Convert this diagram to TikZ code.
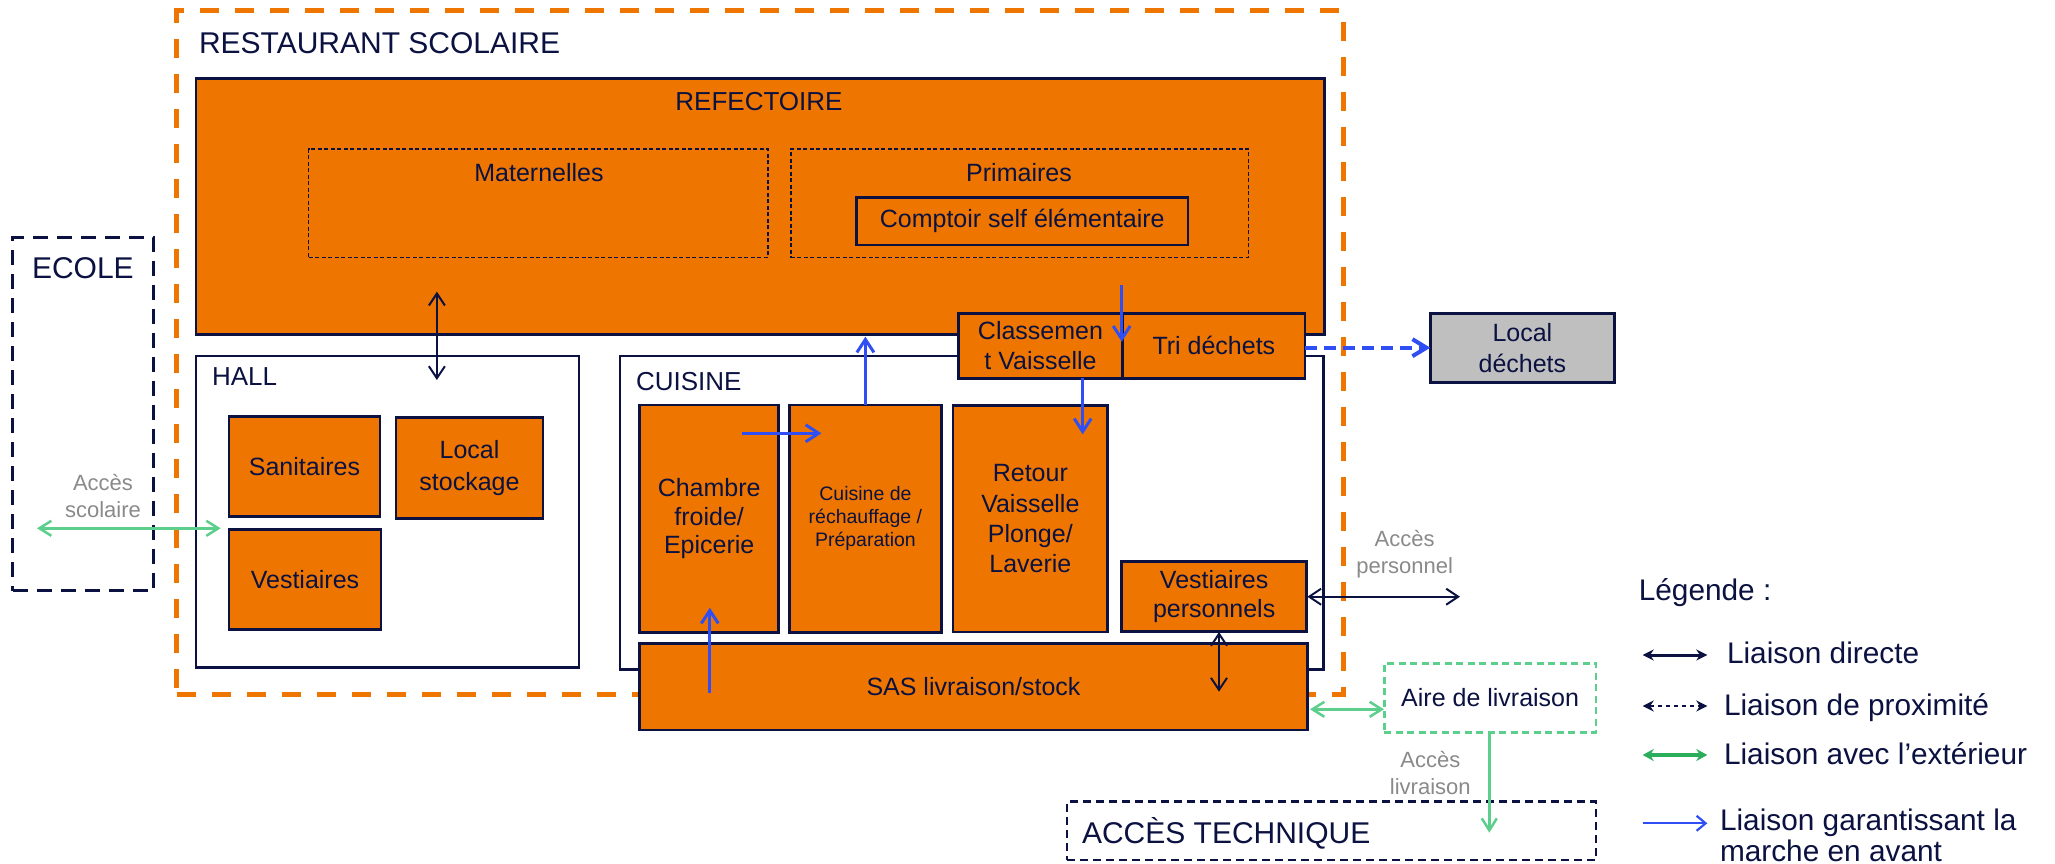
\documentclass[tikz,border=0pt]{standalone}
\usepackage{fontspec}
\setmainfont{Liberation Sans}
\usetikzlibrary{arrows.meta}
\definecolor{orfill}{HTML}{EE7600}
\definecolor{navy}{HTML}{0B1140}
\definecolor{fwdblue}{HTML}{2F4FF5}
\definecolor{lgreen}{HTML}{5CCF8C}
\definecolor{dgreen}{HTML}{2AAE5C}
\definecolor{greytxt}{HTML}{8A8A8A}
\definecolor{wastegrey}{HTML}{BFBFBF}
\newcommand\fsz[2]{\fontsize{#1}{#2}\selectfont}
\tikzset{
  every node/.style={inner sep=0pt, outer sep=0pt},
  obox/.style={draw=navy, line width=2.5pt, fill=orfill, text=navy, align=center, font=\fsz{25}{30}},
  wbox/.style={draw=navy, line width=2.5pt, fill=white},
  dbox/.style={draw=navy, line width=1.5pt, dash pattern=on 4pt off 2.5pt},
  lbl/.style={text=navy, font=\fsz{26}{30}},
  biglbl/.style={text=navy, font=\fsz{30}{34}},
  greylbl/.style={text=greytxt, font=\fsz{22}{26.7}, align=center},
  direct/.style={draw=navy, line width=2pt, {Straight Barb[length=12pt,width=16pt]}-{Straight Barb[length=12pt,width=16pt]}},
  fwd/.style={draw=fwdblue, line width=3pt, -{Straight Barb[length=13pt,width=17pt]}},
  extlink/.style={draw=lgreen, line width=2.5pt, {Straight Barb[length=12pt,width=15pt]}-{Straight Barb[length=12pt,width=15pt]}},
  legtxt/.style={text=navy, font=\fsz{29.8}{33}, anchor=base west},
}
\begin{document}
\begin{tikzpicture}[x=1pt,y=-1pt]
\useasboundingbox (0,0) rectangle (2055,864);
\fill[white] (0,0) rectangle (2055,864);

% outer restaurant dashed frame
\node[draw=orfill, line width=5pt, dash pattern=on 19pt off 16pt, minimum width=1166.6pt, minimum height=683.6pt] (resto) at (760,352.5) {};
\node[biglbl, anchor=base west] (restotitle) at (199,53.3) {RESTAURANT SCOLAIRE};

% refectoire
\node[obox, minimum width=1128.5pt, minimum height=256pt] (refect) at (760,206.3) {};
\node[lbl] (refecttitle) at (759,101.7) {REFECTOIRE};
\node[dbox, minimum width=459.2pt, minimum height=108.7pt] (mater) at (538.3,203.35) {};
\node[text=navy, font=\fsz{25}{30}] (matertitle) at (539,173) {Maternelles};
\node[dbox, minimum width=457.6pt, minimum height=108.7pt] (prim) at (1019.6,203.35) {};
\node[text=navy, font=\fsz{25}{30}] (primtitle) at (1019,173) {Primaires};
\node[obox, minimum width=331.5pt, minimum height=47.7pt] (comptoir) at (1022.25,221.15) {Comptoir self élémentaire};

% ecole
\node[draw=navy, line width=3pt, dash pattern=on 15pt off 9pt, minimum width=140.9pt, minimum height=353.4pt] (ecole) at (83.25,414) {};
\node[biglbl, anchor=base west] (ecoletitle) at (32,278.3) {ECOLE};

% hall
\node[wbox, minimum width=383.2pt, minimum height=311.3pt] (hall) at (387.4,511.65) {};
\node[lbl, anchor=base west] (halltitle) at (212,385) {HALL};
\node[obox, minimum width=151pt, minimum height=100.4pt] (sani) at (304.5,466.5) {Sanitaires};
\node[obox, minimum width=147pt, minimum height=101pt, font=\fsz{25}{31.5}] (stock) at (469.5,468.2) {Local\\stockage};
\node[obox, minimum width=152pt, minimum height=100pt] (vest) at (305,579.3) {Vestiaires};

% cuisine
\node[wbox, minimum width=703.5pt, minimum height=313.5pt] (cuisine) at (971.75,512.75) {};
\node[lbl, anchor=base west] (cuisinetitle) at (636,390) {CUISINE};
\node[obox, minimum width=139pt, minimum height=227.7pt, font=\fsz{25}{28.5}] (chambre) at (709.2,518.85) {Chambre\\froide/\\Epicerie};
\node[obox, minimum width=151.8pt, minimum height=227.7pt, font=\fsz{19.5}{23}] (rechauf) at (865.4,518.85) {Cuisine de\\réchauffage /\\Préparation};
\node[obox, minimum width=154.7pt, minimum height=226.5pt, font=\fsz{25}{30.3}] (retour) at (1030.35,518.75) {Retour\\Vaisselle\\Plonge/\\Laverie};
\node[obox, minimum width=184.9pt, minimum height=70pt, font=\fsz{25}{28.7}] (vestperso) at (1214.15,596.7) {Vestiaires\\personnels};
\node[obox, minimum width=667.6pt, minimum height=86.7pt] (sas) at (973.5,686.65) {SAS livraison/stock};

% classement / tri
\node[obox, minimum width=164.4pt, minimum height=65pt] (classement) at (1040.5,345.8) {Classemen\\t Vaisselle};
\node[obox, minimum width=182.3pt, minimum height=65pt] (tri) at (1213.85,345.8) {Tri déchets};

% local dechets
\node[obox, fill=wastegrey, minimum width=184.2pt, minimum height=69.4pt, font=\fsz{25}{31}] (dechets) at (1522.4,348) {Local\\déchets};

% aire de livraison / acces technique
\node[draw=lgreen, line width=2.5pt, dash pattern=on 7pt off 4.5pt, fill=white, minimum width=211.7pt, minimum height=69.4pt, text=navy, font=\fsz{25}{30}] (aire) at (1490.15,698) {Aire de livraison};
\node[draw=navy, line width=2.5pt, dash pattern=on 8pt off 5pt, minimum width=528.8pt, minimum height=58.3pt] (tech) at (1331.6,830.85) {};
\node[biglbl, anchor=base west] (techtitle) at (1082,843.3) {ACCÈS TECHNIQUE};

% grey labels
\node[greylbl] (accscol) at (103,496) {Accès\\scolaire};
\node[greylbl] (accpers) at (1404.6,554.5) {Accès\\personnel};
\node[greylbl] (accliv) at (1430.3,773.3) {Accès\\livraison};

% connector end points
\coordinate (refhallA) at (436.9,291.7);
\coordinate (refhallB) at (436.9,380);
\coordinate (scolA) at (37,528.3);
\coordinate (scolB) at (220.7,528.3);
\coordinate (upRefA) at (865.4,405);
\coordinate (upRefB) at (865.4,336.7);
\coordinate (downClA) at (1121.7,285);
\coordinate (downClB) at (1121.7,341.7);
\coordinate (downRetA) at (1082.7,378.3);
\coordinate (downRetB) at (1082.7,434.3);
\coordinate (chRechA) at (741.7,433.3);
\coordinate (chRechB) at (821.4,433.3);
\coordinate (sasChA) at (709.8,693.3);
\coordinate (sasChB) at (709.8,607.7);
\coordinate (vsA) at (1219,632);
\coordinate (vsB) at (1219,691.7);
\coordinate (persA) at (1307.3,596.7);
\coordinate (persB) at (1460,596.7);
\coordinate (sasAireA) at (1310,709.3);
\coordinate (sasAireB) at (1384,709.3);
\coordinate (livB) at (1489.3,832.7);
\coordinate (triA) at (1305,347.7);
\coordinate (triB) at (1430.3,347.7);

% connectors
\draw[direct] (refhallA) -- (refhallB);
\draw[extlink] (scolA) -- (scolB);
\draw[fwd] (upRefA) -- (upRefB);
\draw[fwd] (downClA) -- (downClB);
\draw[fwd] (downRetA) -- (downRetB);
\draw[fwd] (chRechA) -- (chRechB);
\draw[fwd] (sasChA) -- (sasChB);
\draw[direct] (vsA) -- (vsB);
\draw[direct] (persA) -- (persB);
\draw[extlink] (sasAireA) -- (sasAireB);
\draw[draw=lgreen, line width=2.5pt, -{Straight Barb[length=12pt,width=15pt]}] (aire.south -| livB) -- (livB);
\draw[draw=fwdblue, line width=4pt, dash pattern=on 12pt off 7pt, -{Straight Barb[length=14pt,width=17pt]}] (triA) -- (triB);

% legend
\node[legtxt] (legtitle) at (1638.8,600.7) {Légende :};
\coordinate (lg1a) at (1642.7,655); \coordinate (lg1b) at (1707.3,655);
\coordinate (lg2a) at (1642.7,706); \coordinate (lg2b) at (1707.3,706);
\coordinate (lg3a) at (1642.7,755); \coordinate (lg3b) at (1707.3,755);
\coordinate (lg4a) at (1642.7,823.3); \coordinate (lg4b) at (1707.3,823.3);
\draw[navy, line width=3pt, {Stealth[length=11pt,width=11pt]}-{Stealth[length=11pt,width=11pt]}] (lg1a) -- (lg1b);
\draw[navy, line width=2.2pt, dash pattern=on 4pt off 4pt, {Stealth[length=11pt,width=11pt]}-{Stealth[length=11pt,width=11pt]}] (lg2a) -- (lg2b);
\draw[dgreen, line width=3.5pt, {Stealth[length=11pt,width=12pt]}-{Stealth[length=11pt,width=12pt]}] (lg3a) -- (lg3b);
\draw[fwdblue, line width=2.2pt, -{Straight Barb[length=9pt,width=15pt]}] (lg4a) -- (lg4b);
\node[legtxt] (leg1) at (1727,663.3) {Liaison directe};
\node[legtxt] (leg2) at (1724,715) {Liaison de proximité};
\node[legtxt] (leg3) at (1724,764) {Liaison avec l’extérieur};
\node[legtxt] (leg4a) at (1720,830) {Liaison garantissant la};
\node[legtxt] (leg4b) at (1720,861) {marche en avant};
\end{tikzpicture}
\end{document}
